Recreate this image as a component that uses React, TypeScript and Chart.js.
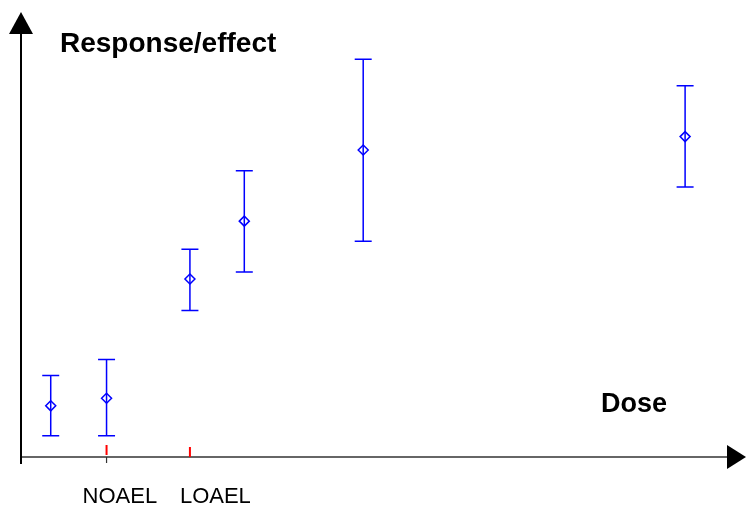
import React, { useEffect, useRef } from "react";
import { Chart, registerables } from "chart.js";

Chart.register(...registerables);

// Dose (arbitrary units) and response values
const doses = [4.1, 11.8, 23.3, 30.8, 47.2, 91.6];
const means = [11.5, 13.2, 40.0, 53.0, 69.0, 72.0];
const upper = [18.3, 21.9, 46.7, 64.3, 89.4, 83.4];
const lower = [4.8, 4.8, 32.9, 41.6, 48.5, 60.7];

const markerLabels = ["NOAEL", "LOAEL"];
const markerDoses = [11.8, 23.3];

const yTitle = "Response/effect";
const xTitle = "Dose";

const FONT = "'Liberation Sans', Arial, Helvetica, sans-serif";
const BLUE = "#0000ff";

const overlayPlugin = {
  id: "doseOverlay",
  beforeDatasetsDraw(chart: any) {
    const { ctx, scales } = chart;
    const xs = scales.x;
    const ys = scales.y;
    ctx.save();
    ctx.strokeStyle = BLUE;
    ctx.lineWidth = 1.5;
    for (let i = 0; i < doses.length; i++) {
      const px = xs.getPixelForValue(doses[i]);
      const pt = ys.getPixelForValue(upper[i]);
      const pb = ys.getPixelForValue(lower[i]);
      ctx.beginPath();
      ctx.moveTo(px, pt);
      ctx.lineTo(px, pb);
      ctx.moveTo(px - 8.5, pt);
      ctx.lineTo(px + 8.5, pt);
      ctx.moveTo(px - 8.5, pb);
      ctx.lineTo(px + 8.5, pb);
      ctx.stroke();
    }
    ctx.restore();
  },
  afterDraw(chart: any) {
    const { ctx, scales } = chart;
    const xs = scales.x;
    const ys = scales.y;
    const x0 = xs.getPixelForValue(0);
    const y0 = ys.getPixelForValue(0);
    const yTop = ys.getPixelForValue(100);
    const xRight = xs.getPixelForValue(100);
    ctx.save();
    // x axis line
    ctx.strokeStyle = "#333333";
    ctx.lineWidth = 1.5;
    ctx.beginPath();
    ctx.moveTo(x0 - 1, y0);
    ctx.lineTo(xRight - 19, y0);
    ctx.stroke();
    // y axis line
    ctx.strokeStyle = "#000000";
    ctx.lineWidth = 2;
    ctx.beginPath();
    ctx.moveTo(x0, yTop + 22);
    ctx.lineTo(x0, y0 + 7);
    ctx.stroke();
    // arrow heads
    ctx.fillStyle = "#000000";
    ctx.beginPath();
    ctx.moveTo(x0, yTop);
    ctx.lineTo(x0 - 12, yTop + 22);
    ctx.lineTo(x0 + 12, yTop + 22);
    ctx.closePath();
    ctx.fill();
    ctx.beginPath();
    ctx.moveTo(xRight, y0);
    ctx.lineTo(xRight - 19, y0 - 12);
    ctx.lineTo(xRight - 19, y0 + 12);
    ctx.closePath();
    ctx.fill();
    // NOAEL black tick below axis
    const pn = xs.getPixelForValue(markerDoses[0]);
    ctx.strokeStyle = "#333333";
    ctx.lineWidth = 1.2;
    ctx.beginPath();
    ctx.moveTo(pn, y0);
    ctx.lineTo(pn, y0 + 6);
    ctx.stroke();
    // red ticks
    ctx.strokeStyle = "#ff0000";
    ctx.lineWidth = 2;
    markerDoses.forEach((d, i) => {
      const p = xs.getPixelForValue(d);
      ctx.beginPath();
      ctx.moveTo(p, y0 - (i === 0 ? 12 : 10));
      ctx.lineTo(p, y0 - (i === 0 ? 2 : 0));
      ctx.stroke();
    });
    // labels
    ctx.fillStyle = "#000000";
    ctx.textBaseline = "alphabetic";
    ctx.textAlign = "left";
    ctx.font = `22px ${FONT}`;
    markerLabels.forEach((t, i) => {
      const p = xs.getPixelForValue(markerDoses[i]);
      ctx.fillText(t, p - (i === 0 ? 24 : 10), y0 + 46);
    });
    ctx.font = `bold 28px ${FONT}`;
    ctx.fillText(yTitle, x0 + 39, yTop + 40);
    ctx.font = `bold 27px ${FONT}`;
    ctx.fillText(xTitle, xs.getPixelForValue(80), y0 - 45);
    ctx.restore();
  },
};

export default function App() {
  const ref = useRef<HTMLCanvasElement | null>(null);
  useEffect(() => {
    if (!ref.current) return;
    const chart = new Chart(ref.current, {
      type: "scatter",
      data: {
        datasets: [
          {
            data: doses.map((d, i) => ({ x: d, y: means[i] })),
            pointStyle: "rectRot",
            pointRadius: 5,
            borderColor: BLUE,
            backgroundColor: "rgba(0,0,0,0)",
            borderWidth: 1.5,
            showLine: false,
          },
        ],
      },
      options: {
        animation: false,
        responsive: false,
        layout: { autoPadding: false, padding: { left: 21, right: 0, top: 12, bottom: 48 } },
        plugins: {
          legend: { display: false },
          tooltip: { enabled: false },
          title: { display: false },
        },
        scales: {
          x: { type: "linear", min: 0, max: 100, display: false },
          y: { type: "linear", min: 0, max: 100, display: false },
        },
      },
      plugins: [overlayPlugin],
    });
    return () => chart.destroy();
  }, []);
  return (
    <div style={{ position: "absolute", left: 0, top: 0, width: 746, height: 505, background: "#fff" }}>
      <canvas ref={ref} width={746} height={505} />
    </div>
  );
}
